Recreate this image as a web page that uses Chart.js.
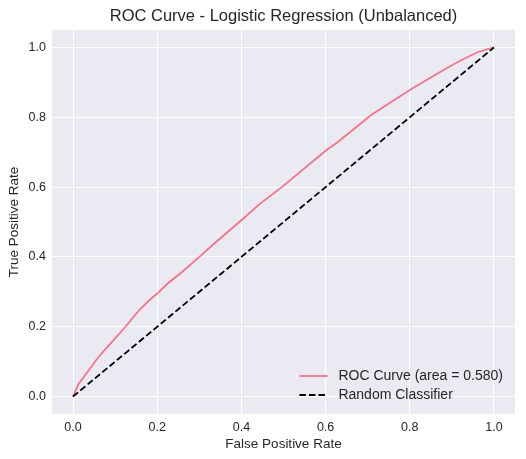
<!DOCTYPE html>
<html>
<head>
<meta charset="utf-8">
<script src="https://cdn.jsdelivr.net/npm/chart.js@4.4.1/dist/chart.umd.min.js"></script>
<style>
  html, body { margin: 0; padding: 0; background: #ffffff; }
  #wrap { width: 526px; height: 459px; }
</style>
</head>
<body>
<div id="wrap"><canvas id="roc" width="526" height="459"></canvas></div>
<script>
// values
const fpr = [0, 0.012, 0.032, 0.056, 0.079, 0.119, 0.159, 0.183, 0.2, 0.222, 0.261, 0.3,
  0.339, 0.4, 0.441, 0.496, 0.6, 0.63, 0.709, 0.8, 0.867, 0.915, 0.962, 1.0];
const tpr = [0, 0.034, 0.067, 0.106, 0.139, 0.192, 0.25, 0.278, 0.295, 0.321, 0.359, 0.4,
  0.442, 0.505, 0.549, 0.6, 0.704, 0.73, 0.807, 0.878, 0.926, 0.959, 0.987, 1.0];
const diagX = [0, 1];
const diagY = [0, 1];
const tickValues = [0, 0.2, 0.4, 0.6, 0.8, 1.0];
const rocLabel = `ROC Curve (area = 0.580)`;
const diagLabel = `Random Classifier`;

const TEXT = `#262626`;
const FONT = `"Liberation Sans", Arial, sans-serif`;

// legend drawn inside the plot, lower right, like matplotlib
const innerLegend = {
  id: `innerLegend`,
  afterLayout(chart) {
    // centre the title over the plot area, not the whole canvas
    if (chart.titleBlock) {
      chart.titleBlock.left = chart.chartArea.left;
      chart.titleBlock.right = chart.chartArea.right;
    }
  },
  afterDatasetsDraw(chart) {
    const {ctx, chartArea} = chart;
    const items = chart.data.datasets;
    const lineLen = 28;
    const gap = 11;
    const rowH = 19;
    ctx.save();
    ctx.font = `14px ${FONT}`;
    const textW = Math.max(...items.map((d) => ctx.measureText(d.label).width));
    const x0 = chartArea.right - 12 - textW - gap - lineLen;
    let y = chartArea.bottom - 19 - rowH * (items.length - 1);
    items.forEach((d) => {
      ctx.beginPath();
      ctx.strokeStyle = d.borderColor;
      ctx.lineWidth = d.borderWidth;
      ctx.setLineDash(d.borderDash || []);
      ctx.moveTo(x0, y);
      ctx.lineTo(x0 + lineLen, y);
      ctx.stroke();
      ctx.setLineDash([]);
      ctx.fillStyle = TEXT;
      ctx.textBaseline = `middle`;
      ctx.textAlign = `left`;
      ctx.fillText(d.label, x0 + lineLen + gap, y);
      y += rowH;
    });
    ctx.restore();
  }
};

const plotBg = {
  id: `plotBg`,
  beforeDraw(chart) {
    const {ctx, chartArea} = chart;
    ctx.save();
    ctx.fillStyle = `#eaeaf2`;
    ctx.fillRect(chartArea.left, chartArea.top, chartArea.width, chartArea.height);
    ctx.restore();
  }
};

const fixTicks = (scale) => {
  scale.ticks = tickValues.map((v) => ({value: v}));
};

new Chart(document.getElementById(`roc`), {
  type: `scatter`,
  plugins: [plotBg, innerLegend],
  data: {
    datasets: [{
      label: rocLabel,
      data: fpr.map((x, i) => ({x, y: tpr[i]})),
      showLine: true,
      borderColor: `#f77189`,
      borderWidth: 1.8,
      pointRadius: 0,
      tension: 0,
      order: 1
    }, {
      label: diagLabel,
      data: diagX.map((x, i) => ({x, y: diagY[i]})),
      showLine: true,
      borderColor: `#000000`,
      borderWidth: 1.8,
      borderDash: [6.5, 3],
      pointRadius: 0,
      order: 0
    }]
  },
  options: {
    responsive: false,
    animation: false,
    devicePixelRatio: 1,
    layout: {
      padding: {left: 0, right: 11, top: 0, bottom: 0}
    },
    plugins: {
      legend: {display: false},
      tooltip: {enabled: false},
      title: {
        display: true,
        text: `ROC Curve - Logistic Regression (Unbalanced)`,
        color: TEXT,
        font: {family: FONT, size: 16.5, weight: `normal`, lineHeight: 1.2},
        padding: {top: 6.8, bottom: 3.4}
      }
    },
    scales: {
      x: {
        type: `linear`,
        min: -0.05,
        max: 1.05,
        afterBuildTicks: fixTicks,
        afterFit: (scale) => { scale.height = 45; },
        border: {display: false},
        grid: {color: `#ffffff`, lineWidth: 1, drawTicks: false},
        ticks: {
          color: TEXT,
          font: {family: FONT, size: 12.5},
          padding: 6,
          callback: (v) => Number(v).toFixed(1)
        },
        title: {
          display: true,
          text: `False Positive Rate`,
          color: TEXT,
          font: {family: FONT, size: 13.5},
          padding: {top: 2, bottom: 7}
        }
      },
      y: {
        type: `linear`,
        min: -0.05,
        max: 1.05,
        afterBuildTicks: fixTicks,
        afterFit: (scale) => { scale.width = 52; },
        border: {display: false},
        grid: {color: `#ffffff`, lineWidth: 1, drawTicks: false},
        ticks: {
          color: TEXT,
          font: {family: FONT, size: 12.5},
          padding: 6,
          callback: (v) => Number(v).toFixed(1)
        },
        title: {
          display: true,
          text: `True Positive Rate`,
          color: TEXT,
          font: {family: FONT, size: 13.5},
          padding: {top: 6, bottom: 2}
        }
      }
    }
  }
});
</script>
</body>
</html>
